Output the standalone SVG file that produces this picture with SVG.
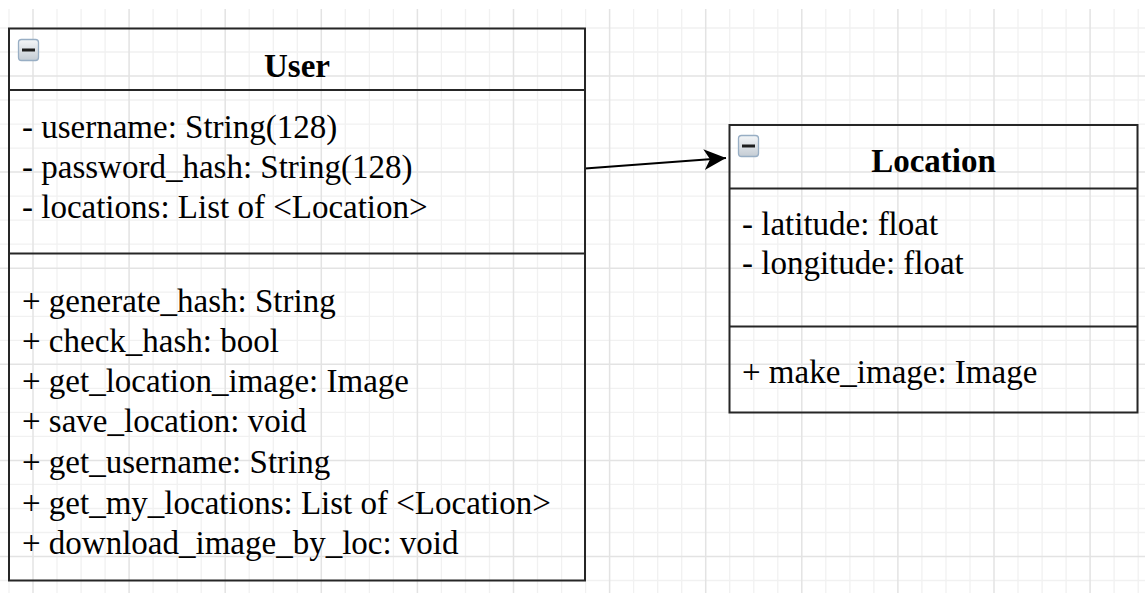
<svg xmlns="http://www.w3.org/2000/svg" width="1145" height="593" viewBox="0 0 1145 593">
  <style>
    .minor { stroke: #f1f1f1; stroke-width: 1.3; fill: none; }
    .major { stroke: #e3e3e3; stroke-width: 1.5; fill: none; }
    .box { fill: none; stroke: #262626; stroke-width: 2; }
    .div { stroke: #262626; stroke-width: 2; }
    .title { font-family: 'Liberation Serif', Tinos, 'Noto Serif', 'DejaVu Serif', serif; font-size: 33px; font-weight: bold; fill: #000; text-anchor: middle; }
    .item { font-family: 'Liberation Serif', Tinos, 'Noto Serif', 'DejaVu Serif', serif; font-size: 33px; fill: #000; }
    .edge { stroke: #000; stroke-width: 2; fill: none; }
  </style>
  <defs>
    <linearGradient id="iconGrad" x1="0" y1="0" x2="0" y2="1">
      <stop offset="0" stop-color="#f4f6f8"/>
      <stop offset="1" stop-color="#c4ccd4"/>
    </linearGradient>
    <g id="collapse">
      <rect x="0.5" y="0.5" width="20" height="21" rx="3" fill="url(#iconGrad)" stroke="#98aec4" stroke-width="1.3"/>
      <rect x="4" y="9.5" width="13" height="3" fill="#1e1e1e"/>
    </g>
    <marker id="arrow" markerUnits="userSpaceOnUse" markerWidth="24" markerHeight="22" refX="22" refY="10.5" orient="auto">
      <path d="M0,0 L22,10.5 L0,21 L6,10.5 Z" fill="#000"/>
    </marker>
  </defs>

  <rect width="1145" height="593" fill="#fff"/>
  <g id="grid">
    <path class="minor" d="M9,9V593 M57,9V593 M81.1,9V593 M105.1,9V593 M153.1,9V593 M177.2,9V593 M201.2,9V593 M249.2,9V593 M273.3,9V593 M297.3,9V593 M345.3,9V593 M369.4,9V593 M393.4,9V593 M441.4,9V593 M465.5,9V593 M489.5,9V593 M537.5,9V593 M561.6,9V593 M585.6,9V593 M633.6,9V593 M657.7,9V593 M681.7,9V593 M729.7,9V593 M753.8,9V593 M777.8,9V593 M825.8,9V593 M849.9,9V593 M873.9,9V593 M921.9,9V593 M946,9V593 M970,9V593 M1018,9V593 M1042.1,9V593 M1066.1,9V593 M1114.1,9V593 M1138.2,9V593 M0,28H1145 M0,52H1145 M0,100H1145 M0,124.1H1145 M0,148.1H1145 M0,196.1H1145 M0,220.2H1145 M0,244.2H1145 M0,292.2H1145 M0,316.3H1145 M0,340.3H1145 M0,388.3H1145 M0,412.4H1145 M0,436.4H1145 M0,484.4H1145 M0,508.5H1145 M0,532.5H1145 M0,580.5H1145"/>
    <path class="major" d="M33,9V593 M129.1,9V593 M225.2,9V593 M321.3,9V593 M417.4,9V593 M513.5,9V593 M609.6,9V593 M705.7,9V593 M801.8,9V593 M897.9,9V593 M994,9V593 M1090.1,9V593 M0,76H1145 M0,172.1H1145 M0,268.2H1145 M0,364.3H1145 M0,460.4H1145 M0,556.5H1145"/>
  </g>

  <g id="connectors">
    <line class="edge" x1="585" y1="168.5" x2="726" y2="158" marker-end="url(#arrow)"/>
  </g>

  <g id="node-user">
    <rect class="box" x="9" y="28.5" width="576" height="552"/>
    <line class="div" x1="9" y1="90" x2="585" y2="90"/>
    <line class="div" x1="9" y1="253.5" x2="585" y2="253.5"/>
    <use href="#collapse" x="18" y="39"/>
    <text class="title" x="297" y="77">User</text>
    <text class="item" x="22" y="138">- username: String(128)</text>
    <text class="item" x="22" y="178">- password_hash: String(128)</text>
    <text class="item" x="22" y="218">- locations: List of &lt;Location&gt;</text>
    <text class="item" x="22" y="311.5">+ generate_hash: String</text>
    <text class="item" x="22" y="351.5">+ check_hash: bool</text>
    <text class="item" x="22" y="392">+ get_location_image: Image</text>
    <text class="item" x="22" y="432">+ save_location: void</text>
    <text class="item" x="22" y="473">+ get_username: String</text>
    <text class="item" x="22" y="513.5">+ get_my_locations: List of &lt;Location&gt;</text>
    <text class="item" x="22" y="553.5">+ download_image_by_loc: void</text>
  </g>

  <g id="node-location">
    <rect class="box" x="729.5" y="125" width="408" height="287.5"/>
    <line class="div" x1="729.5" y1="188.5" x2="1137.5" y2="188.5"/>
    <line class="div" x1="729.5" y1="326.5" x2="1137.5" y2="326.5"/>
    <use href="#collapse" x="738" y="135"/>
    <text class="title" x="933.5" y="172">Location</text>
    <text class="item" x="742" y="235">- latitude: float</text>
    <text class="item" x="742" y="274">- longitude: float</text>
    <text class="item" x="742" y="383">+ make_image: Image</text>
  </g>
</svg>
